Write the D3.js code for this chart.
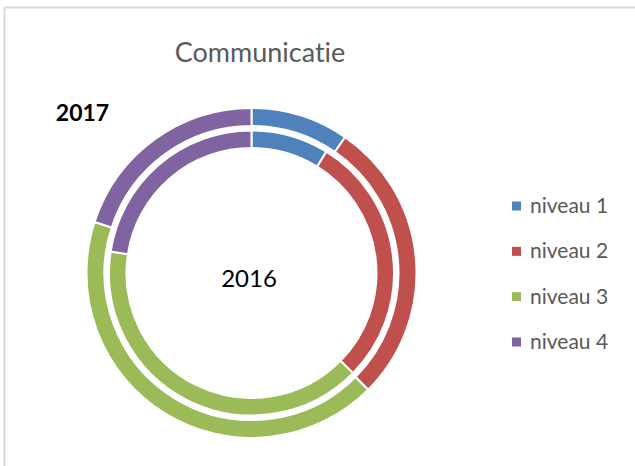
<!DOCTYPE html>
<html>
<head>
<meta charset="utf-8">
<script src="https://cdn.jsdelivr.net/npm/d3@7"></script>
<style>
  html, body { margin: 0; padding: 0; background: #fff; }
  svg { display: block; }
  text { font-variant-ligatures: none; font-feature-settings: "liga" 0, "dlig" 0; }
</style>
</head>
<body>
<script>
const categories = ["niveau 1", "niveau 2", "niveau 3", "niveau 4"];
const values2016 = [8.8, 28.6, 40.0, 22.6];
const values2017 = [9.6, 27.9, 42.5, 20.0];
const seriesNames = ["2016", "2017"];
const colors = ["#4F81BD", "#C0504D", "#9BBB59", "#8064A2"];
const title = "Communicatie";

const W = 635, H = 466;
const svg = d3.select("body").append("svg").attr("width", W).attr("height", H);

// chart frame
svg.append("rect")
  .attr("x", 4.5).attr("y", 7.5)
  .attr("width", W + 20).attr("height", H + 20)
  .attr("fill", "#fff").attr("stroke", "#d9d9d9").attr("stroke-width", 2);

svg.append("text")
  .attr("x", 260).attr("y", 62)
  .attr("text-anchor", "middle")
  .attr("font-family", "Lato, 'Open Sans', sans-serif")
  .attr("font-size", 27)
  .attr("fill", "#595959")
  .text(title);

const cx = 251.5, cy = 273;
const color = d3.scaleOrdinal().domain(categories).range(colors);
const pie = d3.pie().sort(null).value(d => d.v);

const rings = [
  { name: seriesNames[0], vals: values2016, r0: 125, r1: 142.5 },
  { name: seriesNames[1], vals: values2017, r0: 147, r1: 165 }
];

const g = svg.append("g").attr("transform", `translate(${cx},${cy})`);
rings.forEach(ring => {
  const arc = d3.arc().innerRadius(ring.r0).outerRadius(ring.r1);
  const data = categories.map((c, i) => ({ c, v: ring.vals[i] }));
  g.append("g").selectAll("path")
    .data(pie(data))
    .join("path")
    .attr("d", arc)
    .attr("fill", d => color(d.data.c))
    .attr("stroke", "#fff")
    .attr("stroke-width", 2);
});

svg.append("text")
  .attr("x", 249).attr("y", 287)
  .attr("text-anchor", "middle")
  .attr("font-family", "Lato, 'Open Sans', sans-serif")
  .attr("font-size", 24)
  .attr("fill", "#000")
  .text(seriesNames[0]);

svg.append("text")
  .attr("x", 82.5).attr("y", 121)
  .attr("text-anchor", "middle")
  .attr("font-family", "Lato, 'Open Sans', sans-serif")
  .attr("font-weight", "bold")
  .attr("font-size", 23)
  .attr("fill", "#000")
  .text(seriesNames[1]);

const legY = d3.scalePoint().domain(categories).range([206, 342]);
const leg = svg.append("g").selectAll("g").data(categories).join("g")
  .attr("transform", d => `translate(512,${legY(d)})`);
leg.append("rect").attr("x", 0).attr("y", -4.5).attr("width", 9).attr("height", 9)
  .attr("fill", d => color(d));
leg.append("text").attr("x", 18).attr("y", 7)
  .attr("font-family", "Lato, 'Open Sans', sans-serif")
  .attr("font-size", 21)
  .attr("fill", "#595959")
  .text(d => d);
</script>
</body>
</html>
